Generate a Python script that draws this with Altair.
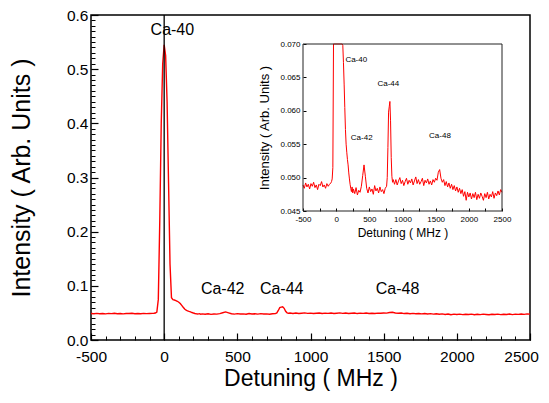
import altair as alt
import pandas as pd

# ---------------- data ----------------
seg_a_x = list(range(-500, -79, 20))
seg_a_y = [0.0489, 0.0484, 0.0492, 0.0486, 0.0490, 0.0483, 0.0491, 0.0487, 0.0493, 0.0485, 0.0489,
           0.0482, 0.0490, 0.0488, 0.0494, 0.0486, 0.0489, 0.0484, 0.0491, 0.0487, 0.0490, 0.0492]

seg_b_x = list(range(-70, 261, 10))
seg_b_y = [0.0494, 0.0498, 0.0515, 0.075, 0.22, 0.40, 0.51, 0.545, 0.525, 0.44, 0.29, 0.14,
           0.078, 0.0745, 0.0738, 0.0728, 0.0715, 0.0698, 0.0672, 0.0640, 0.0605, 0.0572, 0.0550,
           0.0538, 0.0527, 0.0519, 0.0507, 0.0498, 0.0490, 0.0484, 0.0479, 0.0486, 0.0477, 0.0483]

seg_c_x = list(range(280, 761, 20))
seg_c_y = [0.0476, 0.0485, 0.0474, 0.0481, 0.0478, 0.0487, 0.0503, 0.0519, 0.0502, 0.0484, 0.0477,
           0.0486, 0.0479, 0.0483, 0.0475, 0.0488, 0.0480, 0.0484, 0.0477, 0.0486, 0.0479, 0.0482,
           0.0476, 0.0484, 0.0487]

seg_d_x = list(range(770, 861, 10))
seg_d_y = [0.0500, 0.0545, 0.0598, 0.0606, 0.0614, 0.0585, 0.0530, 0.0502, 0.0493, 0.0497]

seg_e_x = list(range(880, 2501, 20))
seg_e_y = [0.0490, 0.0497, 0.0489, 0.0495, 0.0500, 0.0491, 0.0496, 0.0488, 0.0494, 0.0499, 0.0490,
           0.0496, 0.0492, 0.0498, 0.0489, 0.0495, 0.0501, 0.0491, 0.0497, 0.0490, 0.0494, 0.0499,
           0.0488, 0.0496, 0.0492, 0.0498, 0.0490, 0.0495, 0.0489, 0.0497, 0.0493, 0.0499,
           0.0496, 0.0508, 0.0512, 0.0499, 0.0493, 0.0497, 0.0488, 0.0494, 0.0486, 0.0492,
           0.0484, 0.0490, 0.0482, 0.0488, 0.0480, 0.0486, 0.0478, 0.0484, 0.0476, 0.0482,
           0.0472, 0.0479, 0.0466, 0.0478, 0.0471, 0.0477, 0.0468, 0.0476, 0.0470, 0.0478,
           0.0467, 0.0475, 0.0469, 0.0477, 0.0472, 0.0466, 0.0476, 0.0470, 0.0478, 0.0468,
           0.0475, 0.0471, 0.0479, 0.0469, 0.0477, 0.0473, 0.0480, 0.0474, 0.0482, 0.0478]

detuning = seg_a_x + seg_b_x + seg_c_x + seg_d_x + seg_e_x
intensity = seg_a_y + seg_b_y + seg_c_y + seg_d_y + seg_e_y

main_labels = ["Ca-40", "Ca-42", "Ca-44", "Ca-48"]
main_label_x = [56, 400, 803, 1595]
main_label_y = [0.572, 0.094, 0.094, 0.094]

inset_labels = ["Ca-40", "Ca-42", "Ca-44", "Ca-48"]
inset_label_x = [303, 385, 786, 1565]
inset_label_y = [0.0676, 0.0559, 0.0640, 0.0562]

x_major = [-500, 0, 500, 1000, 1500, 2000, 2500]
x_minor = list(range(-500, 2501, 100))
y_major = [0.0, 0.1, 0.2, 0.3, 0.4, 0.5, 0.6]
y_minor = [i / 100 for i in range(0, 61)]
ix_ticks = list(range(-500, 2501, 250))
iy_ticks = [0.045, 0.050, 0.055, 0.060, 0.065, 0.070]

df = pd.DataFrame({"x": detuning, "y": intensity})
df_ml = pd.DataFrame({"lx": main_label_x, "ly": main_label_y, "t": main_labels})
df_il = pd.DataFrame({"lx": inset_label_x, "ly": inset_label_y, "t": inset_labels})
df_frame = pd.DataFrame({"fx0": [-500], "fx1": [2500], "fy0": [0.045], "fy1": [0.070]})

FONT = "Liberation Sans"
W, H = 439, 325
XD = [-500, 2500]
YD = [0.0, 0.6]
IXD = [-500, 2500]
IYD = [0.045, 0.070]
IXR = [212, 411]
IYR = [196, 29]
PLAIN = "'' + datum.value"

# ---------------- main plot ----------------
xs = alt.Scale(domain=XD, nice=False, zero=False)
ys = alt.Scale(domain=YD, nice=False)

main_x_axis = alt.Axis(
    title="Detuning ( MHz )", values=x_major, labelExpr=PLAIN, ticks=False, tickSize=0,
    domain=False, grid=False, labelFontSize=15.5, labelPadding=9, titleFontSize=23,
    titleFontWeight="normal", titlePadding=3, labelColor="black", titleColor="black",
    labelFlush=False, orient="bottom",
    labelOffset={"condition": {"test": "datum.value == 2500", "value": -9}, "value": 0})
main_y_axis = alt.Axis(
    title="Intensity ( Arb. Units )", values=y_major, format=".1f", ticks=False, tickSize=0,
    domain=False, grid=False, labelFontSize=15.5, labelPadding=3, titleFontSize=25,
    titleFontWeight="normal", titlePadding=32, labelColor="black", titleColor="black",
    orient="left")

main_line = alt.Chart(df).mark_line(color="#ff0000", strokeWidth=1.4).encode(
    x=alt.X("x:Q", scale=xs, axis=main_x_axis),
    y=alt.Y("y:Q", scale=ys, axis=main_y_axis),
)

rule0 = alt.Chart(df).transform_filter("datum.x == 0").mark_rule(
    color="black", strokeWidth=1.3).encode(
    x=alt.X("x:Q", scale=xs, axis=main_x_axis),
)

main_text = alt.Chart(df_ml).mark_text(fontSize=16, color="black", font=FONT).encode(
    x=alt.X("lx:Q", scale=xs, axis=main_x_axis),
    y=alt.Y("ly:Q", scale=ys, axis=main_y_axis),
    text="t:N",
)

main_group = alt.layer(main_line, rule0, main_text)

major_ticks = alt.Chart(df).mark_line(opacity=0).encode(
    x=alt.X("x:Q", scale=xs, axis=alt.Axis(values=x_major, labels=False, domain=False, grid=False,
                                            tickSize=7, offset=-7, orient="bottom", title=None,
                                            tickColor="black", tickWidth=1.2)),
    y=alt.Y("y:Q", scale=ys, axis=alt.Axis(values=y_major, labels=False, domain=False, grid=False,
                                            tickSize=7, offset=-7, orient="left", title=None,
                                            tickColor="black", tickWidth=1.2)),
)

minor_ticks = alt.Chart(df).mark_line(opacity=0).encode(
    x=alt.X("x:Q", scale=xs, axis=alt.Axis(values=x_minor, labels=False, domain=False, grid=False,
                                            tickSize=4, offset=-4, orient="bottom", title=None,
                                            tickColor="black", tickWidth=1)),
    y=alt.Y("y:Q", scale=ys, axis=alt.Axis(values=y_minor, labels=False, domain=False, grid=False,
                                            tickSize=4, offset=-4, orient="left", title=None,
                                            tickColor="black", tickWidth=1)),
)

# ---------------- inset ----------------
ixs = alt.Scale(domain=IXD, range=IXR, nice=False, zero=False)
iys = alt.Scale(domain=IYD, range=IYR, nice=False, zero=False, clamp=True)

inset_x_axis = alt.Axis(
    title="Detuning ( MHz )", values=x_major, labelExpr=PLAIN, ticks=False, tickSize=0,
    domain=False, grid=False, labelFontSize=8, labelPadding=4, titleFontSize=12,
    titleFontWeight="normal", titlePadding=4, offset=-(H - IYR[0]), orient="bottom",
    labelColor="black", titleColor="black", labelFlush=False)
inset_y_axis = alt.Axis(
    title="Intensity ( Arb. Units )", values=iy_ticks, format=".3f", ticks=False, tickSize=0,
    domain=False, grid=False, labelFontSize=8, labelPadding=3, titleFontSize=13,
    titleFontWeight="normal", titlePadding=8, offset=-IXR[0], orient="left",
    labelColor="black", titleColor="black", labelFlush=False)

inset_line = alt.Chart(df).mark_line(color="#ff0000", strokeWidth=1).encode(
    x=alt.X("x:Q", scale=ixs, axis=inset_x_axis),
    y=alt.Y("y:Q", scale=iys, axis=inset_y_axis),
)

inset_frame = alt.Chart(df_frame).mark_rect(fill=None, stroke="#222222", strokeWidth=1).encode(
    x=alt.X("fx0:Q", scale=ixs, axis=inset_x_axis),
    x2="fx1:Q",
    y=alt.Y("fy0:Q", scale=iys, axis=inset_y_axis),
    y2="fy1:Q",
)

inset_text = alt.Chart(df_il).mark_text(fontSize=8, color="black", font=FONT).encode(
    x=alt.X("lx:Q", scale=ixs, axis=inset_x_axis),
    y=alt.Y("ly:Q", scale=iys, axis=inset_y_axis),
    text="t:N",
)

inset_group = alt.layer(inset_line, inset_frame, inset_text)

inset_ticks = alt.Chart(df).mark_line(opacity=0).encode(
    x=alt.X("x:Q", scale=ixs, axis=alt.Axis(values=ix_ticks, labels=False, domain=False, grid=False,
                                             tickSize=3, offset=-(H - IYR[0]) - 3, orient="bottom",
                                             title=None, tickColor="black", tickWidth=1)),
    y=alt.Y("y:Q", scale=iys, axis=alt.Axis(values=iy_ticks, labels=False, domain=False, grid=False,
                                             tickSize=3, offset=-IXR[0] - 3, orient="left",
                                             title=None, tickColor="black", tickWidth=1)),
)

chart = alt.layer(
    main_group, major_ticks, minor_ticks, inset_group, inset_ticks
).resolve_scale(
    x="independent", y="independent"
).properties(
    width=W, height=H,
    padding={"left": 83, "top": 7, "right": 10, "bottom": 55},
    autosize=alt.AutoSizeParams(type="none"),
).configure(
    font=FONT, background="white"
).configure_view(
    stroke="black", strokeWidth=1.5
).configure_axis(
    labelFont=FONT, titleFont=FONT
)

chart.save("out.html", embed_options={"renderer": "svg", "actions": False})
